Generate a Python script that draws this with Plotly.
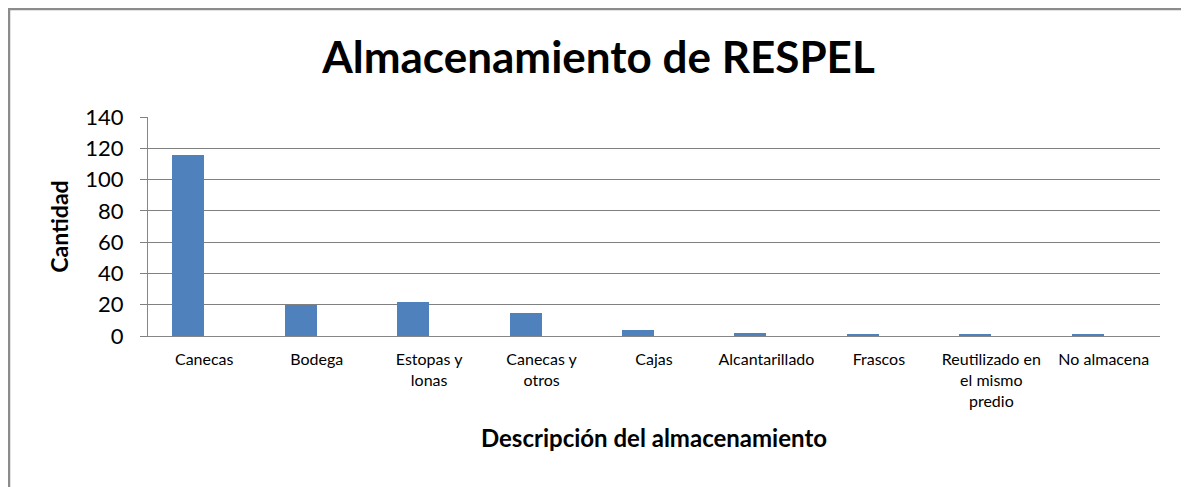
import plotly.graph_objects as go

categorias = ['Canecas', 'Bodega', 'Estopas y<br>lonas', 'Canecas y<br>otros', 'Cajas',
              'Alcantarillado', 'Frascos', 'Reutilizado en<br>el mismo<br>predio', 'No almacena']
cantidad = [116, 20, 22, 15, 4, 2, 1, 1, 1]
y_ticks = [0, 20, 40, 60, 80, 100, 120, 140]

# la página añade 8px de margen al cuerpo, se compensa aquí
W, H = 1181, 479
L, R, T, B = 140, 29, 109, 151
pw, ph = W - L - R, H - T - B

def px_x(p):
    return (p - L) / pw

def px_y(p):
    return (H - B - p) / ph

fig = go.Figure()

fig.add_trace(go.Bar(
    x=list(range(len(categorias))),
    y=cantidad,
    width=0.285,
    offset=-0.285,
    marker=dict(color='#4f81bd', line=dict(width=0)),
    showlegend=False
))

# marco del gráfico (estilo Excel)
fig.add_shape(type='rect', xref='paper', yref='paper',
              x0=px_x(1), x1=px_x(1178), y0=px_y(490), y1=px_y(1),
              line=dict(color='#8c8c8c', width=2.5), layer='below')

fig.update_layout(
    width=W, height=H,
    margin=dict(l=L, r=R, t=T, b=B),
    paper_bgcolor='white',
    plot_bgcolor='white',
    font=dict(family='Lato', color='black'),
    title=dict(text='<b>Almacenamiento de RESPEL</b>', x=0.5, xanchor='center',
               y=1 - 50 / H, yanchor='middle', font=dict(size=44, color='black')),
    bargap=0,
    xaxis=dict(
        tickmode='array',
        tickvals=list(range(len(categorias))),
        ticktext=categorias,
        range=[-0.5, len(categorias) - 0.5],
        tickfont=dict(size=16),
        showline=True, linecolor='#868686', linewidth=1,
        showgrid=False, ticks='', ticklabelstandoff=9,
        title=dict(text='<b>Descripción del almacenamiento</b>', font=dict(size=24), standoff=21)
    ),
    yaxis=dict(
        range=[0, 140],
        tickvals=y_ticks,
        tickfont=dict(size=22),
        showline=True, linecolor='#868686', linewidth=1,
        showgrid=True, gridcolor='#808080', gridwidth=1,
        ticks='outside', ticklen=7, tickcolor='#808080',
        ticklabelstandoff=12,
        zeroline=False,
        title=dict(text='<b>Cantidad</b>', font=dict(size=23), standoff=10)
    )
)

fig.write_html('out.html')
